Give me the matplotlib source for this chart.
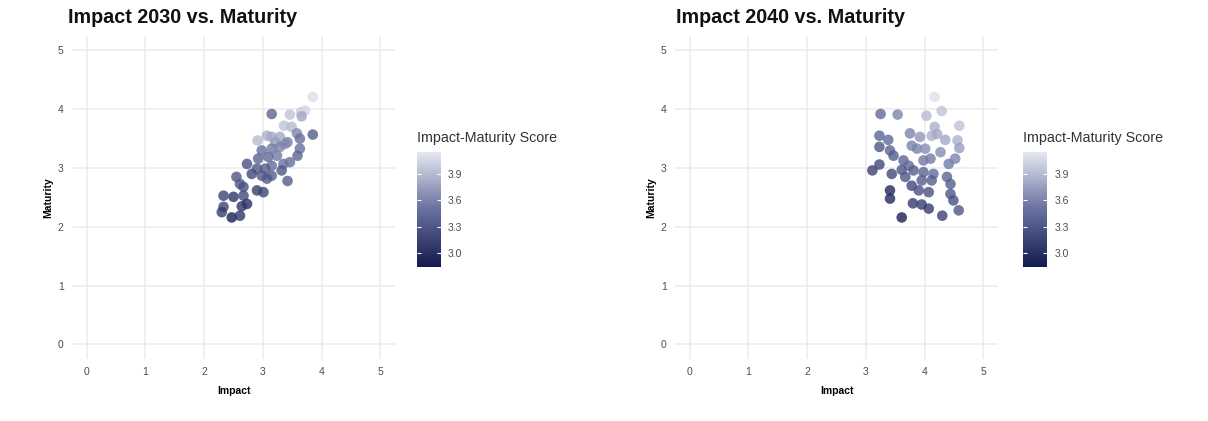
import numpy as np
import matplotlib
matplotlib.use("Agg")
import matplotlib.pyplot as plt
from matplotlib.colors import LinearSegmentedColormap

plt.rcParams['font.family'] = ['Liberation Sans', 'DejaVu Sans']

# panel 1: Impact 2030 vs Maturity
imp30 = [3.85, 3.15, 3.46, 3.65, 3.72, 3.66, 3.36, 3.49, 3.85, 3.58, 3.63, 2.91, 3.07,
         3.15, 3.29, 3.21, 3.38, 3.42, 2.98, 3.15, 3.29, 3.63, 3.59, 3.24, 3.09, 2.92,
         3.46, 3.35, 2.73, 3.15, 3.04, 2.90, 3.32, 2.81, 2.98, 3.15, 2.55, 3.07, 3.42,
         2.61, 2.90, 3.01, 2.67, 2.33, 2.50, 2.67, 2.73, 2.64, 2.33, 2.30, 2.47, 2.61]
mat30 = [4.21, 3.92, 3.91, 3.95, 3.98, 3.88, 3.72, 3.70, 3.57, 3.59, 3.50, 3.47, 3.55,
         3.53, 3.53, 3.44, 3.41, 3.44, 3.30, 3.33, 3.36, 3.33, 3.21, 3.21, 3.19, 3.16,
         3.10, 3.07, 3.07, 3.04, 2.99, 2.99, 2.96, 2.90, 2.87, 2.87, 2.85, 2.82, 2.78,
         2.73, 2.62, 2.59, 2.68, 2.53, 2.51, 2.53, 2.39, 2.35, 2.34, 2.25, 2.16, 2.19]
score30 = [4.10, 3.40, 3.95, 4.00, 4.05, 3.80, 3.95, 3.90, 3.35, 3.60, 3.50, 3.90, 3.85,
           3.80, 3.80, 3.75, 3.70, 3.60, 3.50, 3.55, 3.60, 3.50, 3.40, 3.55, 3.45, 3.40,
           3.50, 3.50, 3.25, 3.45, 3.35, 3.30, 3.30, 3.20, 3.30, 3.35, 3.30, 3.30, 3.35,
           3.30, 3.10, 3.15, 3.25, 3.15, 3.05, 3.20, 3.00, 3.05, 3.15, 3.10, 2.90, 3.05]

# panel 2: Impact 2040 vs Maturity
imp40 = [4.17, 3.25, 3.54, 4.03, 4.29, 4.17, 4.59, 3.23, 3.38, 3.75, 3.92, 4.12, 4.21,
         4.35, 4.56, 4.59, 3.23, 3.41, 3.47, 3.78, 3.87, 4.01, 4.27, 4.52, 4.41, 3.64,
         3.73, 3.98, 4.10, 3.23, 3.11, 3.61, 3.81, 3.44, 3.67, 3.98, 4.15, 3.95, 4.12,
         4.38, 4.44, 3.78, 3.41, 3.90, 4.07, 3.41, 4.44, 4.49, 3.80, 3.95, 4.07, 4.58,
         4.30, 3.61]
mat40 = [4.21, 3.92, 3.91, 3.89, 3.97, 3.70, 3.72, 3.55, 3.48, 3.59, 3.53, 3.55, 3.58,
         3.48, 3.47, 3.34, 3.36, 3.30, 3.21, 3.38, 3.33, 3.33, 3.27, 3.16, 3.07, 3.13,
         3.04, 3.13, 3.16, 3.06, 2.96, 2.97, 2.96, 2.90, 2.85, 2.93, 2.90, 2.79, 2.79,
         2.85, 2.73, 2.70, 2.62, 2.62, 2.59, 2.48, 2.56, 2.45, 2.40, 2.38, 2.31, 2.28,
         2.19, 2.16]
score40 = [4.10, 3.45, 3.60, 3.90, 3.95, 3.85, 3.95, 3.40, 3.45, 3.60, 3.70, 3.85, 3.80,
           3.80, 3.85, 3.75, 3.30, 3.40, 3.35, 3.60, 3.60, 3.65, 3.65, 3.60, 3.55, 3.40,
           3.45, 3.55, 3.55, 3.20, 3.15, 3.30, 3.35, 3.20, 3.30, 3.40, 3.45, 3.35, 3.35,
           3.40, 3.35, 3.20, 2.95, 3.25, 3.25, 2.95, 3.30, 3.25, 3.10, 3.10, 3.10, 3.30,
           3.15, 2.90]

cbar_ticks = [3.0, 3.3, 3.6, 3.9]
vmin, vmax = 2.84, 4.15

cmap = LinearSegmentedColormap.from_list("im", ["#131a4d", "#67709e", "#e6e8f1"])

fig = plt.figure(figsize=(12.08, 4.21), dpi=100)

panels = [
    ("Impact 2030 vs. Maturity", imp30, mat30, score30, 0.0596, 0.0566, 0.345),
    ("Impact 2040 vs. Maturity", imp40, mat40, score40, 0.5588, 0.5596, 0.847),
]

for title, xs, ys, cs, left, tleft, cleft in panels:
    ax = fig.add_axes([left, 0.147, 0.2674, 0.768])
    sc = ax.scatter(xs, ys, c=cs, cmap=cmap, vmin=vmin, vmax=vmax, s=58,
                    alpha=0.8, edgecolors='none', zorder=3)
    ax.set_xlim(-0.25, 5.25)
    ax.set_ylim(-0.25, 5.25)
    ax.set_xticks(range(6))
    ax.set_yticks(range(6))
    ax.grid(True, color='#ebebeb', linewidth=1.1, zorder=0)
    for s in ax.spines.values():
        s.set_visible(False)
    ax.tick_params(length=0, labelsize=7.5, labelcolor='#4d4d4d', pad=6)
    ax.set_xlabel("Impact", fontsize=7.5, fontweight='bold', labelpad=6)
    ax.set_ylabel("Maturity", fontsize=7.5, fontweight='bold', labelpad=3)
    fig.text(tleft, 0.958, title, fontsize=14.2, fontweight='bold',
             va='center', ha='left', color='#111111')

    cax = fig.add_axes([cleft, 0.366, 0.02, 0.273])
    cb = fig.colorbar(sc, cax=cax)
    cb.solids.set_alpha(1)
    cb.outline.set_visible(False)
    cb.set_ticks(cbar_ticks)
    cb.set_ticklabels([f"{t:.1f}" for t in cbar_ticks])
    cax.tick_params(length=3, color='white', width=0.8, direction='in',
                    left=True, right=True, labelleft=False, labelright=True,
                    labelsize=7.5, labelcolor='#4d4d4d', pad=5)
    cax.tick_params(which='minor', length=0)
    fig.text(cleft, 0.673, "Impact-Maturity Score", fontsize=10.3,
             va='center', ha='left', color='#333333')

fig.savefig("out.png", dpi=100)
